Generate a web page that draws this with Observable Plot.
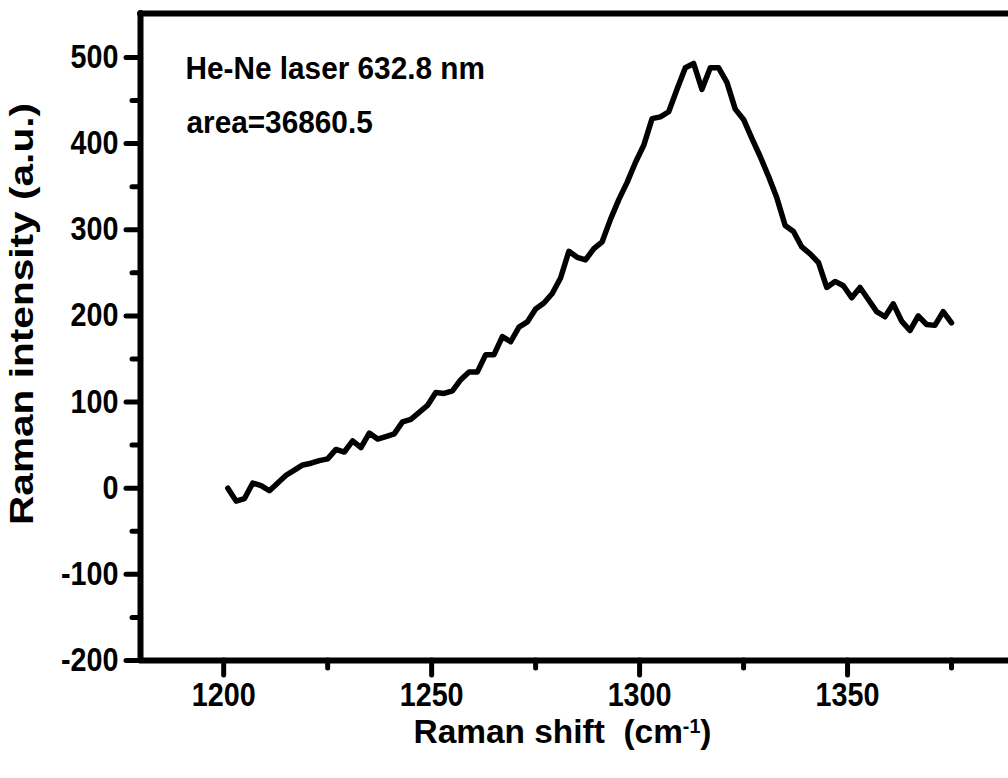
<!DOCTYPE html>
<html>
<head>
<meta charset="utf-8">
<script src="https://cdn.jsdelivr.net/npm/d3@7"></script>
<script src="https://cdn.jsdelivr.net/npm/@observablehq/plot@0.6"></script>
<style>
  html, body { margin: 0; padding: 0; background: #fff; overflow: hidden; }
  #chart svg { display: block; }
</style>
</head>
<body>
<div id="chart"></div>
<script>
// Raman shift (cm-1)
const shift = [
  1201,1203,1205,1207,1209,1211,1213,1215,1217,1219,
  1221,1223,1225,1227,1229,1231,1233,1235,1237,1239,
  1241,1243,1245,1247,1249,1251,1253,1255,1257,1259,
  1261,1263,1265,1267,1269,1271,1273,1275,1277,1279,
  1281,1283,1285,1287,1289,1291,1293,1295,1297,1299,
  1301,1303,1305,1307,1309,1311,1313,1315,1317,1319,
  1321,1323,1325,1327,1329,1331,1333,1335,1337,1339,
  1341,1343,1345,1347,1349,1351,1353,1355,1357,1359,
  1361,1363,1365,1367,1369,1371,1373,1375
];
// Raman intensity (a.u.)
const intensity = [
  0,-15,-12,6,3,-3,6,15,21,27,
  29,32,34,45,42,55,47,64,57,60,
  63,77,80,88,96,111,110,113,126,135,
  135,155,155,176,170,187,193,208,215,226,
  244,275,268,265,278,286,312,335,355,378,
  398,429,431,437,463,488,493,463,488,488,
  471,440,428,406,385,362,337,305,298,280,
  272,262,233,240,235,221,233,219,205,199,
  214,194,183,200,190,189,205,192
];

const xMajorTicks = [1200, 1250, 1300, 1350];
const xMinorTicks = [1225, 1275, 1325, 1375];
const yMajorTicks = [-200, -100, 0, 100, 200, 300, 400, 500];
const yMinorTicks = [-150, -50, 50, 150, 250, 350, 450];
const xDomain = [1180, 1388.7];
const yDomain = [-200, 551];

const xTitle = ["Raman shift\u00a0 (cm-1)"];
const yTitle = ["Raman intensity (a.u.)"];
const note1 = ["He-Ne laser 632.8 nm"];
const note2 = ["area=36860.5"];

const data = shift.map((s, i) => ({shift: s, intensity: intensity[i]}));

const font = "'Liberation Sans', Arial, Helvetica, sans-serif";

const chart = Plot.plot({
  width: 1008,
  height: 778,
  marginLeft: 140,
  marginRight: 0,
  marginTop: 13,
  marginBottom: 118,
  style: {fontFamily: font, fontWeight: "bold", background: "#fff", color: "#000"},
  x: {domain: xDomain},
  y: {domain: yDomain},
  marks: [
    // minor ticks
    Plot.axisX({ticks: xMinorTicks, tickSize: 8, strokeWidth: 5, strokeLinecap: "round", text: null, label: null}),
    Plot.axisY({ticks: yMinorTicks, tickSize: 8, strokeWidth: 5, strokeLinecap: "round", text: null, label: null}),
    // major ticks
    Plot.axisX({ticks: xMajorTicks, tickSize: 15, strokeWidth: 5, strokeLinecap: "round",
      tickPadding: 7, fontSize: 33, tickFormat: d => String(d), label: null}),
    Plot.axisY({ticks: yMajorTicks, tickSize: 14, strokeWidth: 5, strokeLinecap: "round",
      tickPadding: 8, fontSize: 33, tickFormat: d => String(d), label: null}),
    // axis lines
    Plot.ruleX([xDomain[0]], {strokeWidth: 6, strokeLinecap: "round"}),
    Plot.ruleY([yDomain[0], yDomain[1]], {strokeWidth: 6, strokeLinecap: "round"}),
    // spectrum
    Plot.line(data, {x: "shift", y: "intensity", stroke: "#000", strokeWidth: 5.5,
      strokeLinejoin: "round", strokeLinecap: "round"}),
    // annotations
    Plot.text(note1, {frameAnchor: "top-left", textAnchor: "start", lineAnchor: "bottom",
      dx: 45, dy: 65, fontSize: 32, fill: "#000"}),
    Plot.text(note2, {frameAnchor: "top-left", textAnchor: "start", lineAnchor: "bottom",
      dx: 46, dy: 119, fontSize: 32, fill: "#000"}),
    // axis titles
    Plot.text(xTitle, {frameAnchor: "bottom", textAnchor: "middle", lineAnchor: "bottom",
      dx: -12, dy: 82, fontSize: 34, fill: "#000"}),
    Plot.text(yTitle, {frameAnchor: "left", textAnchor: "middle", lineAnchor: "middle",
      rotate: -90, dx: -118, dy: -23, fontSize: 33, fill: "#000"})
  ]
});

document.getElementById("chart").appendChild(chart);

const svg = d3.select(chart);

// horizontally condensed bold type, as in the reference
function condense(sel, factor) {
  sel.each(function() {
    const w = this.getComputedTextLength();
    this.setAttribute("textLength", (w * factor).toFixed(1));
    this.setAttribute("lengthAdjust", "spacingAndGlyphs");
  });
}
condense(svg.selectAll("g[aria-label='x-axis tick label'] text"), 0.87);
condense(svg.selectAll("g[aria-label='y-axis tick label'] text"), 0.87);
condense(svg.selectAll("text").filter(function() {
  return this.textContent === note1[0] || this.textContent === note2[0];
}), 0.93);

// superscript on the x title
svg.selectAll("text").filter(function() { return this.textContent === xTitle[0]; })
  .each(function() {
    const t = d3.select(this);
    t.text(null);
    t.append("tspan").text("Raman shift\u00a0 (cm");
    t.append("tspan").text("-1").attr("font-size", 20).attr("dy", "-0.5em");
    t.append("tspan").text(")").attr("dy", "0.3em");
    t.attr("textLength", 298).attr("lengthAdjust", "spacingAndGlyphs");
  });
svg.selectAll("text").filter(function() { return this.textContent === yTitle[0]; })
  .attr("textLength", 422).attr("lengthAdjust", "spacingAndGlyphs");
</script>
</body>
</html>
